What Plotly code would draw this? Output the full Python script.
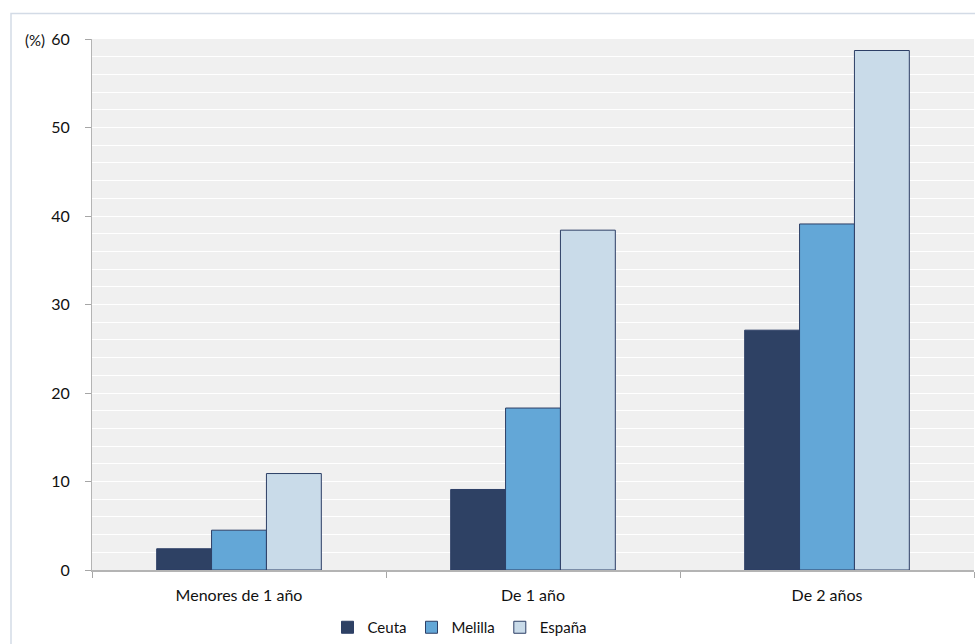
import plotly.graph_objects as go

categories = ["Menores de 1 año", "De 1 año", "De 2 años"]
ceuta = [2.4, 9.1, 27.1]
melilla = [4.5, 18.3, 39.1]
espana = [10.9, 38.4, 58.7]
series_names = ["Ceuta", "Melilla", "España"]
y_ticks = [0, 10, 20, 30, 40, 50, 60]

colors = ["#2e4164", "#63a7d7", "#c9dbe9"]
outline = "#2d3f66"
font_family = "Lato, 'Open Sans', sans-serif"

fig = go.Figure()
for name, vals, col in zip(series_names, [ceuta, melilla, espana], colors):
    fig.add_trace(go.Bar(
        x=categories, y=vals, name=name,
        marker=dict(color=col, line=dict(color=outline, width=1)),
    ))

W, H = 975, 644
L, R, T, B = 92, 1, 39, 73
pw = W - L - R
ph = H - T - B

def px_x(x):
    return (x - L) / pw

def px_y(y):
    return (H - B - y) / ph

fig.update_layout(
    width=W, height=H,
    margin=dict(l=L, r=R, t=T, b=B),
    paper_bgcolor="white",
    plot_bgcolor="#f0f0f0",
    barmode="group",
    bargap=0.44,
    bargroupgap=0,
    font=dict(family=font_family, size=16, color="#111111"),
    showlegend=True,
    legend=dict(
        orientation="h", x=px_x(460), xanchor="center",
        y=px_y(628), yanchor="middle",
        font=dict(size=15), itemwidth=30, traceorder="normal",
        bgcolor="rgba(0,0,0,0)",
    ),
    xaxis=dict(
        type="category",
        tickson="boundaries",
        ticks="outside", ticklen=6, tickcolor="#a6a6a6", tickwidth=1,
        showline=True, linecolor="#b4b4b4", linewidth=2,
        showgrid=False,
        tickfont=dict(size=16),
        ticklabelstandoff=10,
    ),
    yaxis=dict(
        range=[0, 60],
        tickvals=y_ticks,
        ticks="outside", ticklen=6, tickcolor="#a6a6a6", tickwidth=1,
        showline=True, linecolor="#b4b4b4", linewidth=1,
        showgrid=True, gridcolor="white", gridwidth=1,
        minor=dict(dtick=2, showgrid=True, gridcolor="white", gridwidth=1),
        zeroline=False,
        tickfont=dict(size=16),
        ticklabelstandoff=12,
    ),
    shapes=[dict(
        type="rect", xref="paper", yref="paper",
        x0=px_x(11), x1=px_x(990), y0=px_y(660), y1=px_y(13.5),
        line=dict(color="#d3dbe6", width=1.5), fillcolor="rgba(0,0,0,0)",
        layer="below",
    )],
    annotations=[dict(
        text="(%)", xref="paper", yref="paper",
        x=px_x(47), y=px_y(40), xanchor="right", yanchor="middle",
        showarrow=False, font=dict(size=15),
    )],
)

fig.write_html(
    "out.html",
    config={"displayModeBar": False},
    post_script="document.body.style.margin='0';document.body.style.padding='0';",
)
